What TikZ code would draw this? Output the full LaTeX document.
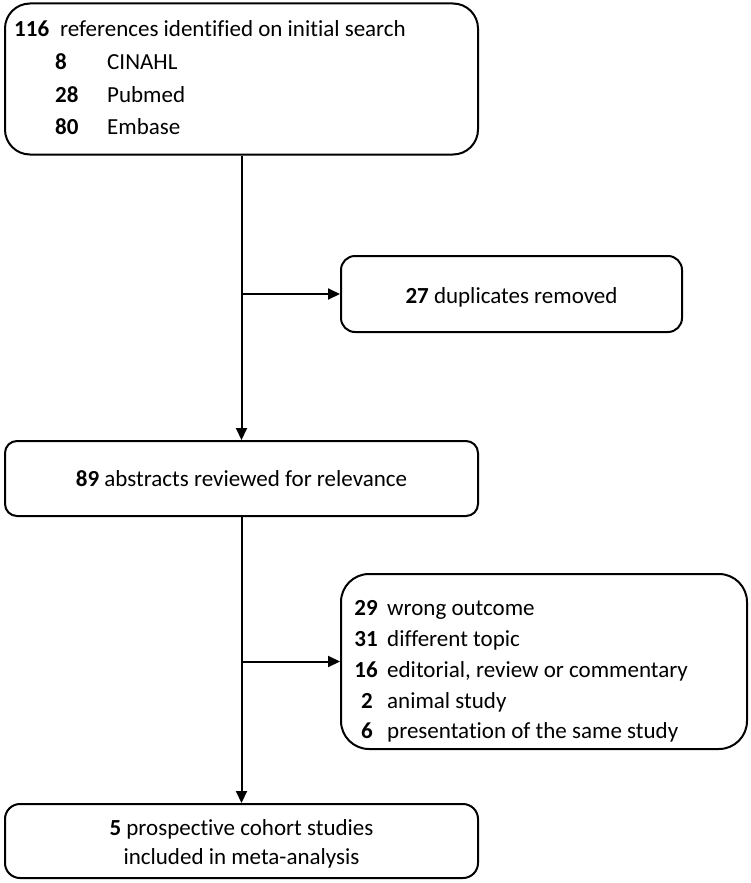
\documentclass[tikz,border=0pt]{standalone}
\usepackage{fontspec}
\setmainfont{Carlito}[Ligatures=NoCommon]
\usetikzlibrary{arrows.meta}
\begin{document}
\begin{tikzpicture}[x=1pt,y=-1pt,
  box/.style={draw=black, line width=2pt, fill=white, inner sep=0pt},
  txt/.style={inner sep=0pt, font=\fontsize{23}{27}\selectfont},
  conn/.style={line width=2pt, -{Triangle[length=12pt,width=11pt]}}]
\useasboundingbox (0,0) rectangle (750,883);
% boxes
\node[box, rounded corners=25pt, minimum width=473pt, minimum height=151pt] (search) at (241.5,79) {};
\node[box, rounded corners=14pt, minimum width=341pt, minimum height=76pt] (dup) at (511.5,294) {};
\node[box, rounded corners=12pt, minimum width=473pt, minimum height=75pt] (abs) at (241.5,478.5) {};
\node[box, rounded corners=28pt, minimum width=406pt, minimum height=175pt] (excl) at (544,661.5) {};
\node[box, rounded corners=15pt, minimum width=473pt, minimum height=74pt] (final) at (241.5,841) {};
% texts box 1
\node[txt, anchor=base west] (t116) at (14,37) {\textbf{116}};
\node[txt, anchor=base west] (tref) at (60,37) {references identified on initial search};
\node[txt, anchor=base west] (t8) at (55,70) {\textbf{8}};
\node[txt, anchor=base west] (tcin) at (107,70) {CINAHL};
\node[txt, anchor=base west] (t28) at (55,102) {\textbf{28}};
\node[txt, anchor=base west] (tpub) at (107,102) {Pubmed};
\node[txt, anchor=base west] (t80) at (55,134) {\textbf{80}};
\node[txt, anchor=base west] (temb) at (107,134) {Embase};
% dup
\node[txt, anchor=base] (tdup) at (511.5,303) {\textbf{27} duplicates removed};
% abstracts
\node[txt, anchor=base] (tabs) at (241.5,486) {\textbf{89} abstracts reviewed for relevance};
% exclusions
\node[txt, anchor=base] (n29) at (366,615) {\textbf{29}};
\node[txt, anchor=base west] (e29) at (387,615) {wrong outcome};
\node[txt, anchor=base] (n31) at (366,646) {\textbf{31}};
\node[txt, anchor=base west] (e31) at (387,646) {different topic};
\node[txt, anchor=base] (n16) at (366,677) {\textbf{16}};
\node[txt, anchor=base west] (e16) at (387,677) {editorial, review or commentary};
\node[txt, anchor=base] (n2) at (367,708) {\textbf{2}};
\node[txt, anchor=base west] (e2) at (387,708) {animal study};
\node[txt, anchor=base] (n6) at (367,738) {\textbf{6}};
\node[txt, anchor=base west] (e6) at (387,738) {presentation of the same study};
% final
\node[txt, anchor=base] (tfin1) at (241.5,835) {\textbf{5} prospective cohort studies};
\node[txt, anchor=base] (tfin2) at (241.5,864) {included in meta-analysis};
% connectors
\coordinate (j1) at (search.south |- dup.west);
\coordinate (j2) at (abs.south |- excl.west);
\draw[conn] (search.south) -- (abs.north);
\draw[conn] (j1) -- (dup.west);
\draw[conn] (abs.south) -- (final.north);
\draw[conn] (j2) -- (excl.west);
\end{tikzpicture}
\end{document}
